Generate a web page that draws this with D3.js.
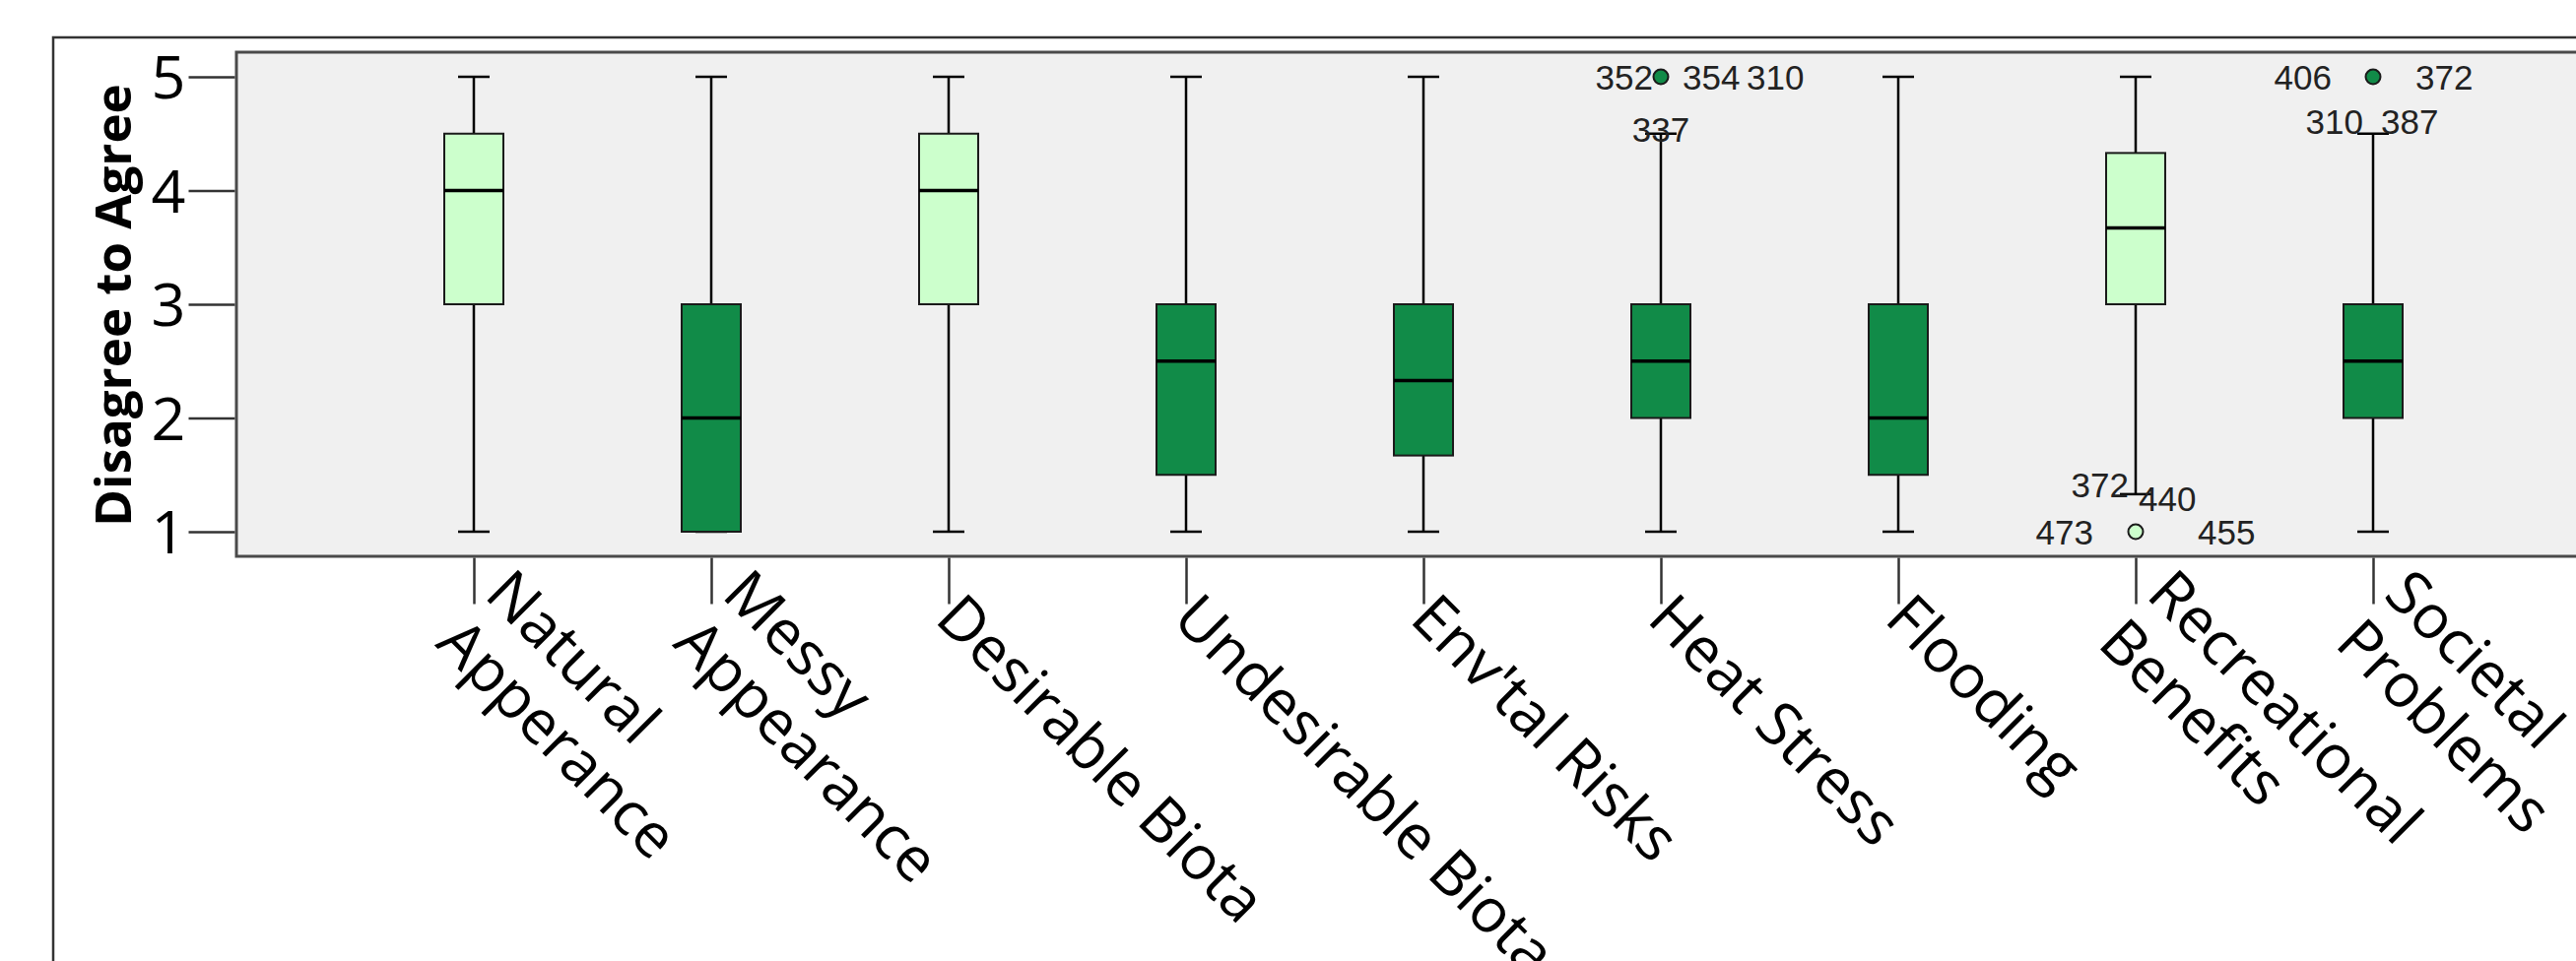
<!DOCTYPE html>
<html>
<head>
<meta charset="utf-8">
<script src="https://cdn.jsdelivr.net/npm/d3@7"></script>
<style>
  html, body { margin: 0; padding: 0; background: #ffffff; }
  svg { display: block; }
</style>
</head>
<body>
<svg id="chart" width="2615" height="976"></svg>
<script>
// ---------------- data ----------------
const categories = ["Natural\nApperance", "Messy\nAppearance", "Desirable Biota", "Undesirable Biota",
  "Env'tal Risks", "Heat Stress", "Flooding", "Recreational\nBenefits", "Societal\nProblems"];
const whiskerLow  = [1, 1, 1, 1, 1, 1, 1, 1.33, 1];
const quartile1   = [3, 1, 3, 1.5, 1.67, 2, 1.5, 3, 2];
const medians     = [4, 2, 4, 2.5, 2.33, 2.5, 2, 3.67, 2.5];
const quartile3   = [4.5, 3, 4.5, 3, 3, 3, 3, 4.33, 3];
const whiskerHigh = [5, 5, 5, 5, 5, 4.5, 5, 5, 4.5];
const groups      = ["benefit", "problem", "benefit", "problem", "problem", "problem", "problem", "benefit", "problem"];
const outlierCategory = ["Heat Stress", "Recreational\nBenefits", "Societal\nProblems"];
const outlierValue    = [5, 1, 5];
const caseLabelText     = ["352", "354", "310", "337", "473", "455", "372", "440", "406", "372", "310", "387"];
const caseLabelCategory = ["Heat Stress", "Heat Stress", "Heat Stress", "Heat Stress",
  "Recreational\nBenefits", "Recreational\nBenefits", "Recreational\nBenefits", "Recreational\nBenefits",
  "Societal\nProblems", "Societal\nProblems", "Societal\nProblems", "Societal\nProblems"];
const caseLabelValue    = [5, 5, 5, 4.5, 1, 1, 1.33, 1.33, 5, 5, 4.5, 4.5];
const yTicks = [1, 2, 3, 4, 5];
const yTitle = "Disagree to Agree";

// ---------------- layout / style ----------------
const caseLabelLayout = [
  {dx: -8, dy: 0, anchor: "end"}, {dx: 22, dy: 0, anchor: "start"}, {dx: 87, dy: 0, anchor: "start"},
  {dx: 0, dy: -4, anchor: "middle"},
  {dx: -43, dy: 0, anchor: "end"}, {dx: 63, dy: 0, anchor: "start"},
  {dx: -7, dy: -9, anchor: "end"}, {dx: 3, dy: 5, anchor: "start"},
  {dx: -42, dy: 0, anchor: "end"}, {dx: 43, dy: 0, anchor: "start"},
  {dx: -10, dy: -12, anchor: "end"}, {dx: 8, dy: -12, anchor: "start"}
];
const colors = {benefit: "#ccffcc", problem: "#118b48"};
const plotLeft = 240, plotRight = 2650, plotTop = 53, plotBottom = 565;

const svg = d3.select("#chart");

// outer frame
svg.append("rect").attr("x", 54).attr("y", 38).attr("width", 2700).attr("height", 1200)
  .attr("fill", "#ffffff").attr("stroke", "#333").attr("stroke-width", 2.5);

const x = d3.scalePoint().domain(categories).range([plotLeft, plotRight]).padding(1);
const y = d3.scaleLinear().domain([1, 5]).range([540, 78]);

// plot area
svg.append("rect").attr("x", plotLeft).attr("y", plotTop)
  .attr("width", plotRight - plotLeft).attr("height", plotBottom - plotTop)
  .attr("fill", "#f0f0f0").attr("stroke", "#4a4a4a").attr("stroke-width", 3);

// y axis
const yAxis = d3.axisLeft(y).tickValues(yTicks).tickFormat(d3.format("d")).tickSize(47).tickPadding(3);
const yg = svg.append("g").attr("transform", `translate(${plotLeft - 1.5},0)`).call(yAxis);
yg.select(".domain").remove();
yg.selectAll(".tick line").attr("stroke", "#333").attr("stroke-width", 2.5);
yg.selectAll(".tick text").attr("font-family", "'Open Sans', sans-serif").attr("font-size", 61)
  .attr("fill", "#000").attr("dy", "0.36em");

// y title
svg.append("text").attr("transform", "translate(133,310) rotate(-90)")
  .attr("text-anchor", "middle").attr("font-family", "'Open Sans', sans-serif")
  .attr("font-weight", "bold").attr("font-size", 51).attr("fill", "#000").text(yTitle);

// x axis ticks
const xAxis = d3.axisBottom(x).tickSize(47).tickFormat("");
const xg = svg.append("g").attr("transform", `translate(0,${plotBottom + 1.5})`).call(xAxis);
xg.select(".domain").remove();
xg.selectAll(".tick line").attr("stroke", "#333").attr("stroke-width", 2.5);

// category labels (rotated 45deg, multi-line centred on tick)
const lineH = 70, capHalf = 22;
categories.forEach(c => {
  const lines = c.split("\n");
  const g = svg.append("g").attr("transform", `translate(${x(c)},615) rotate(45)`);
  lines.forEach((ln, i) => {
    g.append("text").attr("x", 0).attr("y", (i - (lines.length - 1) / 2) * lineH + capHalf)
      .attr("font-family", "'Open Sans', sans-serif").attr("font-size", 62)
      .attr("fill", "#000").text(ln);
  });
});

// boxes
const boxW = 60, capW = 32;
const boxData = categories.map((c, i) => ({
  c, lo: whiskerLow[i], q1: quartile1[i], med: medians[i], q3: quartile3[i], hi: whiskerHigh[i], g: groups[i]
}));
const bg = svg.append("g");
const b = bg.selectAll("g.box").data(boxData).join("g").attr("class", "box");
b.append("line").attr("x1", d => x(d.c)).attr("x2", d => x(d.c))
  .attr("y1", d => y(d.hi)).attr("y2", d => y(d.q3)).attr("stroke", "#000").attr("stroke-width", 2.5);
b.append("line").attr("x1", d => x(d.c)).attr("x2", d => x(d.c))
  .attr("y1", d => y(d.q1)).attr("y2", d => y(d.lo)).attr("stroke", "#000").attr("stroke-width", 2.5);
b.append("line").attr("x1", d => x(d.c) - capW / 2).attr("x2", d => x(d.c) + capW / 2)
  .attr("y1", d => y(d.hi)).attr("y2", d => y(d.hi)).attr("stroke", "#000").attr("stroke-width", 2.5);
b.append("line").attr("x1", d => x(d.c) - capW / 2).attr("x2", d => x(d.c) + capW / 2)
  .attr("y1", d => y(d.lo)).attr("y2", d => y(d.lo)).attr("stroke", "#000").attr("stroke-width", 2.5);
b.append("rect").attr("x", d => x(d.c) - boxW / 2).attr("width", boxW)
  .attr("y", d => y(d.q3)).attr("height", d => y(d.q1) - y(d.q3))
  .attr("fill", d => colors[d.g]).attr("stroke", "#1a1a1a").attr("stroke-width", 2);
b.append("line").attr("x1", d => x(d.c) - boxW / 2).attr("x2", d => x(d.c) + boxW / 2)
  .attr("y1", d => y(d.med)).attr("y2", d => y(d.med)).attr("stroke", "#000").attr("stroke-width", 3.5);

// outliers
const outliers = outlierCategory.map((c, i) => ({c, v: outlierValue[i], g: groups[categories.indexOf(c)]}));
svg.append("g").selectAll("circle").data(outliers).join("circle")
  .attr("cx", d => x(d.c)).attr("cy", d => y(d.v)).attr("r", 7.5)
  .attr("fill", d => colors[d.g]).attr("stroke", "#1a1a1a").attr("stroke-width", 2);

// case labels
const caseLabels = caseLabelText.map((t, i) => ({t, c: caseLabelCategory[i], v: caseLabelValue[i], L: caseLabelLayout[i]}));
svg.append("g").selectAll("text").data(caseLabels).join("text")
  .attr("x", d => x(d.c) + d.L.dx).attr("y", d => y(d.v) + d.L.dy).attr("dy", "0.36em")
  .attr("text-anchor", d => d.L.anchor)
  .attr("font-family", "'Liberation Sans', Arial, sans-serif").attr("font-size", 35)
  .attr("fill", "#222").text(d => d.t);
</script>
</body>
</html>
